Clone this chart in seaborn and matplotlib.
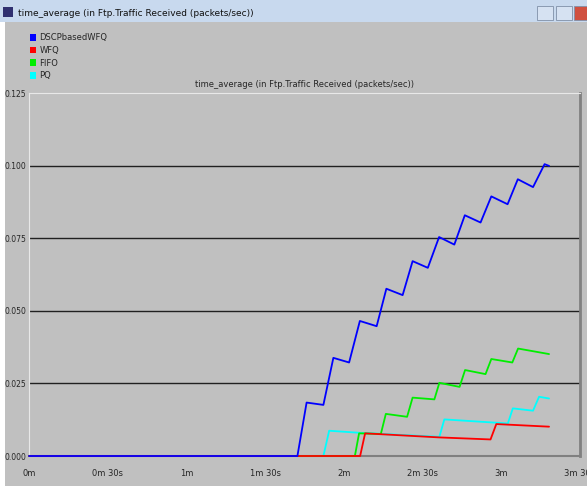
import numpy as np
import pandas as pd
import seaborn as sns
import matplotlib.pyplot as plt
from matplotlib.patches import Patch, Rectangle

# values (time in seconds, packets/sec)
dscp_t = [0, 102.3, 105.8, 112.2, 116.0, 122.0, 126.1, 132.5, 136.2, 142.4, 146.2, 152.0,
          156.3, 162.1, 166.1, 172.1, 176.2, 182.4, 186.3, 192.1, 196.5, 198.2]
dscp_v = [0, 0, 0.0184, 0.0176, 0.0338, 0.0322, 0.0465, 0.0447, 0.0576, 0.0554, 0.0671, 0.0648,
          0.0754, 0.0728, 0.0829, 0.0804, 0.0894, 0.0867, 0.0953, 0.0926, 0.1005, 0.0999]

wfq_t = [0, 126.2, 128.1, 156.4, 175.9, 178.1, 198.2]
wfq_v = [0, 0, 0.0078, 0.0064, 0.0057, 0.0110, 0.0101]

fifo_t = [0, 124.2, 125.8, 134.1, 136.0, 144.1, 146.2, 154.5, 156.4, 164.1, 166.2, 174.0,
          176.2, 184.2, 186.4, 198.2]
fifo_v = [0, 0, 0.0078, 0.0076, 0.0145, 0.0135, 0.0201, 0.0195, 0.0252, 0.0238, 0.0296, 0.0282,
          0.0334, 0.0322, 0.0370, 0.0351]

pq_t = [0, 112.2, 114.4, 125.8, 156.4, 158.3, 177.4, 182.5, 184.4, 192.1, 194.4, 198.2]
pq_v = [0, 0, 0.0087, 0.0080, 0.0066, 0.0126, 0.0115, 0.0112, 0.0164, 0.0156, 0.0204, 0.0198]

labels = ["DSCPbasedWFQ", "WFQ", "FIFO", "PQ"]
colors = ["#0000ff", "#ff0000", "#00ee00", "#00ffff"]
xticks = [0, 30, 60, 90, 120, 150, 180, 210]
xtick_labels = ["0m", "0m 30s", "1m", "1m 30s", "2m", "2m 30s", "3m", "3m 30s"]
yticks = [0, 0.025, 0.05, 0.075, 0.1, 0.125]
title = "time_average (in Ftp.Traffic Received (packets/sec))"

frames = []
for name, t, v in [("DSCPbasedWFQ", dscp_t, dscp_v), ("WFQ", wfq_t, wfq_v),
                   ("FIFO", fifo_t, fifo_v), ("PQ", pq_t, pq_v)]:
    frames.append(pd.DataFrame({"t": t, "v": v, "series": name}))
df = pd.concat(frames, ignore_index=True)

sns.set_style("white")
plt.rcParams['font.family'] = ['Liberation Sans Narrow', 'DejaVu Sans']

bg = "#c0c0c0"
fig = plt.figure(figsize=(5.87, 4.86), dpi=100, facecolor=bg)
W, H = 587, 486
ax = fig.add_axes([29 / W, 1 - 456 / H, 551 / W, 363 / H])
ax.set_facecolor(bg)

# window frame: title bar, left border, buttons
fig.patches.append(Rectangle((0, 1 - 22 / H), 1, 22 / H, transform=fig.transFigure,
                             facecolor="#c8d9ee", edgecolor="none", zorder=-2))
fig.patches.append(Rectangle((0, 0), 5 / W, 1 - 22 / H, transform=fig.transFigure,
                             facecolor="white", edgecolor="none", zorder=-2))
fig.patches.append(Rectangle((3 / W, 1 - 17 / H), 10 / W, 10 / H, transform=fig.transFigure,
                             facecolor="#303070", edgecolor="none", zorder=-1))
for x0, c in [(537, "#d6e2f2"), (556, "#d6e2f2"), (574, "#d05040")]:
    fig.patches.append(Rectangle((x0 / W, 1 - 20 / H), 16 / W, 14 / H, transform=fig.transFigure,
                                 facecolor=c, edgecolor="#8090a8", lw=0.6, zorder=-1))
fig.text(18 / W, 1 - 13 / H, title, fontsize=6.5, va="center", ha="left", color="#101010")

# draw order: red sits on top of cyan / green, blue on top of all at zero
order = ["PQ", "FIFO", "WFQ", "DSCPbasedWFQ"]
pal = dict(zip(labels, colors))
for name in order:
    sub = df[df["series"] == name]
    sns.lineplot(data=sub, x="t", y="v", color=pal[name], lw=1.3, ax=ax,
                 sort=False, estimator=None, clip_on=False, legend=False, zorder=3)

for y in yticks[1:-1]:
    ax.axhline(y, color="#202020", lw=1.0, zorder=0.5)

ax.set_xlim(0, 210)
ax.set_ylim(0, 0.125)
ax.set_xticks(xticks)
ax.set_xticklabels(xtick_labels, fontsize=6)
ax.set_yticks(yticks)
ax.set_yticklabels([f"{y:.3f}" for y in yticks], fontsize=5.5)
ax.tick_params(axis="x", direction="out", length=6, width=1, color="#505050", pad=3)
ax.tick_params(axis="y", length=0, pad=2)
ax.set_xlabel("")
ax.set_ylabel("")
ax.set_title(title, fontsize=6, pad=4)

ax.spines["left"].set_color("#e8e8e8")
ax.spines["top"].set_color("#e8e8e8")
ax.spines["right"].set_color("#808080")
ax.spines["right"].set_linewidth(2)
ax.spines["bottom"].set_color("#808080")
ax.spines["bottom"].set_linewidth(1.5)

handles = [Patch(facecolor=c, edgecolor="none") for c in colors]
fig.legend(handles=handles, labels=labels, loc="upper left",
           bbox_to_anchor=(26 / W, 1 - 29 / H), frameon=False, fontsize=6,
           handlelength=0.7, handleheight=0.9, handletextpad=0.4, labelspacing=0.45,
           borderpad=0)

fig.savefig("out.png", dpi=100, facecolor=bg)
